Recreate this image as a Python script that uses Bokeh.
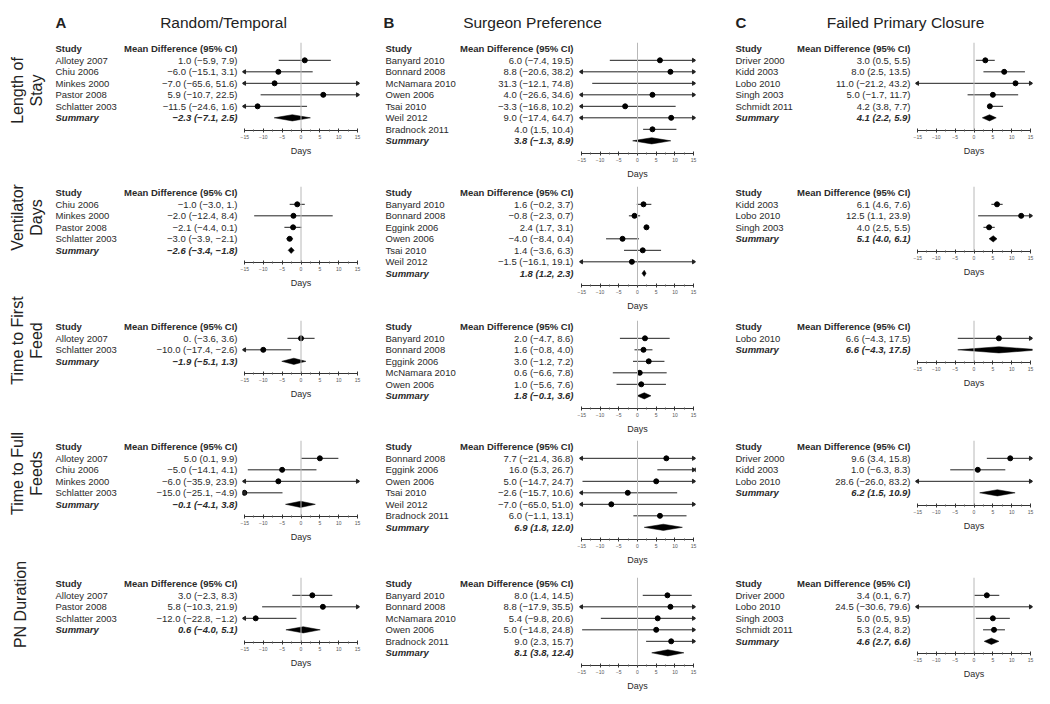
import math
from bokeh.plotting import figure
from bokeh.layouts import row, column
from bokeh.models import Range1d, FixedTicker, Span
from bokeh.core.properties import value
from bokeh.embed import file_html
from bokeh.resources import INLINE

FONT = "Liberation Sans"

# ------------------------------------------------------------------ data
COL_LETTERS = ["A", "B", "C"]
COL_TITLES = ["Random/Temporal", "Surgeon Preference", "Failed Primary Closure"]
ROW_TITLES = [["Length of", "Stay"], ["Ventilator", "Days"], ["Time to First", "Feed"],
              ["Time to Full", "Feeds"], ["PN Duration"]]
AXIS_TICKS = [-15, -10, -5, 0, 5, 10, 15]
AXIS_LABEL = "Days"

# Column A - Random/Temporal
A_los_study = ["Allotey 2007", "Chiu 2006", "Minkes 2000", "Pastor 2008", "Schlatter 2003"]
A_los_md = [1.0, -6.0, -7.0, 5.9, -11.5]
A_los_lo = [-5.9, -15.1, -65.6, -10.7, -24.6]
A_los_hi = [7.9, 3.1, 51.6, 22.5, 1.6]
A_los_lab = ["1.0 (−5.9, 7.9)", "−6.0 (−15.1, 3.1)", "−7.0 (−65.6, 51.6)", "5.9 (−10.7, 22.5)", "−11.5 (−24.6, 1.6)"]
A_los_sum = [-2.3, -7.1, 2.5]
A_los_sumlab = "−2.3 (−7.1, 2.5)"

A_vent_study = ["Chiu 2006", "Minkes 2000", "Pastor 2008", "Schlatter 2003"]
A_vent_md = [-1.0, -2.0, -2.1, -3.0]
A_vent_lo = [-3.0, -12.4, -4.4, -3.9]
A_vent_hi = [1.0, 8.4, 0.1, -2.1]
A_vent_lab = ["−1.0 (−3.0, 1.)", "−2.0 (−12.4, 8.4)", "−2.1 (−4.4, 0.1)", "−3.0 (−3.9, −2.1)"]
A_vent_sum = [-2.6, -3.4, -1.8]
A_vent_sumlab = "−2.6 (−3.4, −1.8)"

A_first_study = ["Allotey 2007", "Schlatter 2003"]
A_first_md = [0.0, -10.0]
A_first_lo = [-3.6, -17.4]
A_first_hi = [3.6, -2.6]
A_first_lab = ["0. (−3.6, 3.6)", "−10.0 (−17.4, −2.6)"]
A_first_sum = [-1.9, -5.1, 1.3]
A_first_sumlab = "−1.9 (−5.1, 1.3)"

A_full_study = ["Allotey 2007", "Chiu 2006", "Minkes 2000", "Schlatter 2003"]
A_full_md = [5.0, -5.0, -6.0, -15.0]
A_full_lo = [0.1, -14.1, -35.9, -25.1]
A_full_hi = [9.9, 4.1, 23.9, -4.9]
A_full_lab = ["5.0 (0.1, 9.9)", "−5.0 (−14.1, 4.1)", "−6.0 (−35.9, 23.9)", "−15.0 (−25.1, −4.9)"]
A_full_sum = [-0.1, -4.1, 3.8]
A_full_sumlab = "−0.1 (−4.1, 3.8)"

A_pn_study = ["Allotey 2007", "Pastor 2008", "Schlatter 2003"]
A_pn_md = [3.0, 5.8, -12.0]
A_pn_lo = [-2.3, -10.3, -22.8]
A_pn_hi = [8.3, 21.9, -1.2]
A_pn_lab = ["3.0 (−2.3, 8.3)", "5.8 (−10.3, 21.9)", "−12.0 (−22.8, −1.2)"]
A_pn_sum = [0.6, -4.0, 5.1]
A_pn_sumlab = "0.6 (−4.0, 5.1)"

# Column B - Surgeon Preference
B_los_study = ["Banyard 2010", "Bonnard 2008", "McNamara 2010", "Owen 2006", "Tsai 2010", "Weil 2012", "Bradnock 2011"]
B_los_md = [6.0, 8.8, 31.3, 4.0, -3.3, 9.0, 4.0]
B_los_lo = [-7.4, -20.6, -12.1, -26.6, -16.8, -17.4, 1.5]
B_los_hi = [19.5, 38.2, 74.8, 34.6, 10.2, 64.7, 10.4]
B_los_lab = ["6.0 (−7.4, 19.5)", "8.8 (−20.6, 38.2)", "31.3 (−12.1, 74.8)", "4.0 (−26.6, 34.6)",
             "−3.3 (−16.8, 10.2)", "9.0 (−17.4, 64.7)", "4.0 (1.5, 10.4)"]
B_los_sum = [3.8, -1.3, 8.9]
B_los_sumlab = "3.8 (−1.3, 8.9)"

B_vent_study = ["Banyard 2010", "Bonnard 2008", "Eggink 2006", "Owen 2006", "Tsai 2010", "Weil 2012"]
B_vent_md = [1.6, -0.8, 2.4, -4.0, 1.4, -1.5]
B_vent_lo = [-0.2, -2.3, 1.7, -8.4, -3.6, -16.1]
B_vent_hi = [3.7, 0.7, 3.1, 0.4, 6.3, 19.1]
B_vent_lab = ["1.6 (−0.2, 3.7)", "−0.8 (−2.3, 0.7)", "2.4 (1.7, 3.1)", "−4.0 (−8.4, 0.4)",
              "1.4 (−3.6, 6.3)", "−1.5 (−16.1, 19.1)"]
B_vent_sum = [1.8, 1.2, 2.3]
B_vent_sumlab = "1.8 (1.2, 2.3)"

B_first_study = ["Banyard 2010", "Bonnard 2008", "Eggink 2006", "McNamara 2010", "Owen 2006"]
B_first_md = [2.0, 1.6, 3.0, 0.6, 1.0]
B_first_lo = [-4.7, -0.8, -1.2, -6.6, -5.6]
B_first_hi = [8.6, 4.0, 7.2, 7.8, 7.6]
B_first_lab = ["2.0 (−4.7, 8.6)", "1.6 (−0.8, 4.0)", "3.0 (−1.2, 7.2)", "0.6 (−6.6, 7.8)", "1.0 (−5.6, 7.6)"]
B_first_sum = [1.8, -0.1, 3.6]
B_first_sumlab = "1.8 (−0.1, 3.6)"

B_full_study = ["Bonnard 2008", "Eggink 2006", "Owen 2006", "Tsai 2010", "Weil 2012", "Bradnock 2011"]
B_full_md = [7.7, 16.0, 5.0, -2.6, -7.0, 6.0]
B_full_lo = [-21.4, 5.3, -14.7, -15.7, -65.0, -1.1]
B_full_hi = [36.8, 26.7, 24.7, 10.6, 51.0, 13.1]
B_full_lab = ["7.7 (−21.4, 36.8)", "16.0 (5.3, 26.7)", "5.0 (−14.7, 24.7)", "−2.6 (−15.7, 10.6)",
              "−7.0 (−65.0, 51.0)", "6.0 (−1.1, 13.1)"]
B_full_sum = [6.9, 1.8, 12.0]
B_full_sumlab = "6.9 (1.8, 12.0)"

B_pn_study = ["Banyard 2010", "Bonnard 2008", "McNamara 2010", "Owen 2006", "Bradnock 2011"]
B_pn_md = [8.0, 8.8, 5.4, 5.0, 9.0]
B_pn_lo = [1.4, -17.9, -9.8, -14.8, 2.3]
B_pn_hi = [14.5, 35.5, 20.6, 24.8, 15.7]
B_pn_lab = ["8.0 (1.4, 14.5)", "8.8 (−17.9, 35.5)", "5.4 (−9.8, 20.6)", "5.0 (−14.8, 24.8)", "9.0 (2.3, 15.7)"]
B_pn_sum = [8.1, 3.8, 12.4]
B_pn_sumlab = "8.1 (3.8, 12.4)"

# Column C - Failed Primary Closure
C_los_study = ["Driver 2000", "Kidd 2003", "Lobo 2010", "Singh 2003", "Schmidt 2011"]
C_los_md = [3.0, 8.0, 11.0, 5.0, 4.2]
C_los_lo = [0.5, 2.5, -21.2, -1.7, 3.8]
C_los_hi = [5.5, 13.5, 43.2, 11.7, 7.7]
C_los_lab = ["3.0 (0.5, 5.5)", "8.0 (2.5, 13.5)", "11.0 (−21.2, 43.2)", "5.0 (−1.7, 11.7)", "4.2 (3.8, 7.7)"]
C_los_sum = [4.1, 2.2, 5.9]
C_los_sumlab = "4.1 (2.2, 5.9)"

C_vent_study = ["Kidd 2003", "Lobo 2010", "Singh 2003"]
C_vent_md = [6.1, 12.5, 4.0]
C_vent_lo = [4.6, 1.1, 2.5]
C_vent_hi = [7.6, 23.9, 5.5]
C_vent_lab = ["6.1 (4.6, 7.6)", "12.5 (1.1, 23.9)", "4.0 (2.5, 5.5)"]
C_vent_sum = [5.1, 4.0, 6.1]
C_vent_sumlab = "5.1 (4.0, 6.1)"

C_first_study = ["Lobo 2010"]
C_first_md = [6.6]
C_first_lo = [-4.3]
C_first_hi = [17.5]
C_first_lab = ["6.6 (−4.3, 17.5)"]
C_first_sum = [6.6, -4.3, 17.5]
C_first_sumlab = "6.6 (−4.3, 17.5)"

C_full_study = ["Driver 2000", "Kidd 2003", "Lobo 2010"]
C_full_md = [9.6, 1.0, 28.6]
C_full_lo = [3.4, -6.3, -26.0]
C_full_hi = [15.8, 8.3, 83.2]
C_full_lab = ["9.6 (3.4, 15.8)", "1.0 (−6.3, 8.3)", "28.6 (−26.0, 83.2)"]
C_full_sum = [6.2, 1.5, 10.9]
C_full_sumlab = "6.2 (1.5, 10.9)"

C_pn_study = ["Driver 2000", "Lobo 2010", "Singh 2003", "Schmidt 2011"]
C_pn_md = [3.4, 24.5, 5.0, 5.3]
C_pn_lo = [0.1, -30.6, 0.5, 2.4]
C_pn_hi = [6.7, 79.6, 9.5, 8.2]
C_pn_lab = ["3.4 (0.1, 6.7)", "24.5 (−30.6, 79.6)", "5.0 (0.5, 9.5)", "5.3 (2.4, 8.2)"]
C_pn_sum = [4.6, 2.7, 6.6]
C_pn_sumlab = "4.6 (2.7, 6.6)"

PANELS = [
    [(A_los_study, A_los_md, A_los_lo, A_los_hi, A_los_lab, A_los_sum, A_los_sumlab),
     (A_vent_study, A_vent_md, A_vent_lo, A_vent_hi, A_vent_lab, A_vent_sum, A_vent_sumlab),
     (A_first_study, A_first_md, A_first_lo, A_first_hi, A_first_lab, A_first_sum, A_first_sumlab),
     (A_full_study, A_full_md, A_full_lo, A_full_hi, A_full_lab, A_full_sum, A_full_sumlab),
     (A_pn_study, A_pn_md, A_pn_lo, A_pn_hi, A_pn_lab, A_pn_sum, A_pn_sumlab)],
    [(B_los_study, B_los_md, B_los_lo, B_los_hi, B_los_lab, B_los_sum, B_los_sumlab),
     (B_vent_study, B_vent_md, B_vent_lo, B_vent_hi, B_vent_lab, B_vent_sum, B_vent_sumlab),
     (B_first_study, B_first_md, B_first_lo, B_first_hi, B_first_lab, B_first_sum, B_first_sumlab),
     (B_full_study, B_full_md, B_full_lo, B_full_hi, B_full_lab, B_full_sum, B_full_sumlab),
     (B_pn_study, B_pn_md, B_pn_lo, B_pn_hi, B_pn_lab, B_pn_sum, B_pn_sumlab)],
    [(C_los_study, C_los_md, C_los_lo, C_los_hi, C_los_lab, C_los_sum, C_los_sumlab),
     (C_vent_study, C_vent_md, C_vent_lo, C_vent_hi, C_vent_lab, C_vent_sum, C_vent_sumlab),
     (C_first_study, C_first_md, C_first_lo, C_first_hi, C_first_lab, C_first_sum, C_first_sumlab),
     (C_full_study, C_full_md, C_full_lo, C_full_hi, C_full_lab, C_full_sum, C_full_sumlab),
     (C_pn_study, C_pn_md, C_pn_lo, C_pn_hi, C_pn_lab, C_pn_sum, C_pn_sumlab)],
]

# ------------------------------------------------------------------ layout
ROW_PX = 11.5
TOP_PAD = 0.55
BOT_PAD = 1.09
MB_TOP = 4
SLOT_H = [144, 134, 120, 137, 123]
TEXT_W = [188, 216, 216]
FOREST_W = [121, 120, 121]
NAME_X = [3, 24, 38]
CI_X = [185, 212, 213]
LIM = 15
XPAD = 0.5
TXT = "#2a2a2a"
TOP_H = 38
LEFT_W = 52


def base_fig(w, h, xr, yr, **kw):
    p = figure(width=w, height=h, x_range=xr, y_range=yr, output_backend="svg",
               toolbar_location=None, **kw)
    p.outline_line_color = None
    p.grid.visible = False
    p.background_fill_color = "white"
    p.border_fill_color = "white"
    return p


def make_panel(c, r, studies, md, lo, hi, labs, summ, sumlab):
    n = len(studies)
    frame_h = int(round((n + 1 + BOT_PAD + TOP_PAD) * ROW_PX))
    mb_bot = SLOT_H[r] - MB_TOP - frame_h
    top = -TOP_PAD
    bottom = top + frame_h / ROW_PX
    ys = list(range(1, n + 1))
    ysum = n + 1

    # ---- text table
    t = base_fig(TEXT_W[c], SLOT_H[r], Range1d(0, TEXT_W[c]), Range1d(bottom, top),
                 x_axis_location=None, y_axis_location=None,
                 min_border_left=0, min_border_right=0,
                 min_border_top=MB_TOP, min_border_bottom=mb_bot)
    common = dict(text_font=value(FONT), text_baseline="middle", text_color=TXT)
    t.text(x=[NAME_X[c]], y=[0], text=["Study"], text_align="left",
           text_font_size="9.5px", text_font_style="bold", **common)
    t.text(x=[CI_X[c]], y=[0], text=["Mean Difference (95% CI)"], text_align="right",
           text_font_size="9.5px", text_font_style="bold", **common)
    t.text(x=[NAME_X[c]] * n, y=ys, text=studies, text_align="left",
           text_font_size="9.5px", **common)
    t.text(x=[CI_X[c]] * n, y=ys, text=labs, text_align="right",
           text_font_size="9.5px", **common)
    t.text(x=[NAME_X[c]], y=[ysum], text=["Summary"], text_align="left",
           text_font_size="9.5px", text_font_style="bold italic", **common)
    t.text(x=[CI_X[c]], y=[ysum], text=[sumlab], text_align="right",
           text_font_size="9.5px", text_font_style="bold italic", **common)

    # ---- forest plot
    f = base_fig(FOREST_W[c], SLOT_H[r], Range1d(-LIM - XPAD, LIM + XPAD), Range1d(bottom, top),
                 y_axis_location=None, min_border_left=2, min_border_right=2,
                 min_border_top=MB_TOP, min_border_bottom=mb_bot)
    f.add_layout(Span(location=0, dimension="height", line_color="#b8b8b8", line_width=1))
    x0 = [max(v, -LIM) for v in lo]
    x1 = [min(v, LIM) for v in hi]
    f.segment(x0=x0, y0=ys, x1=x1, y1=ys, line_color="#222222", line_width=1)
    f.scatter(x=md, y=ys, marker="circle", size=5, color="black")
    rx = [LIM for v in hi if v > LIM]
    ry = [y for v, y in zip(hi, ys) if v > LIM]
    lx = [-LIM for v in lo if v < -LIM]
    ly = [y for v, y in zip(lo, ys) if v < -LIM]
    if rx:
        f.scatter(x=rx, y=ry, marker="triangle", angle=-math.pi / 2, size=4, color="#222222")
    if lx:
        f.scatter(x=lx, y=ly, marker="triangle", angle=math.pi / 2, size=4, color="#222222")
    h = 0.27
    f.patch(x=[summ[1], summ[0], summ[2], summ[0]], y=[ysum, ysum - h, ysum, ysum + h],
            fill_color="black", line_color="black", line_width=0.5)

    ax = f.xaxis[0]
    ax.ticker = FixedTicker(ticks=AXIS_TICKS,
                            minor_ticks=[a + 2.5 for a in AXIS_TICKS[:-1]])
    ax.bounds = (-LIM, LIM)
    ax.axis_label = AXIS_LABEL
    ax.axis_label_text_font = FONT
    ax.axis_label_text_font_size = "9px"
    ax.axis_label_text_font_style = "normal"
    ax.axis_label_text_color = TXT
    ax.axis_label_standoff = 4
    ax.major_label_text_font = FONT
    ax.major_label_text_font_size = "5px"
    ax.major_label_text_color = "#555555"
    ax.major_label_standoff = 2
    ax.major_tick_in = 2
    ax.major_tick_out = 2
    ax.minor_tick_in = 1
    ax.minor_tick_out = 1
    ax.axis_line_color = "#333333"
    ax.major_tick_line_color = "#333333"
    ax.minor_tick_line_color = "#555555"
    return row(t, f)


columns = []
for c in range(3):
    columns.append(column(*[make_panel(c, r, *PANELS[c][r]) for r in range(5)]))
main = row(*columns)

# column titles
TITLE_W = sum(TEXT_W) + sum(FOREST_W)
tf = base_fig(TITLE_W, TOP_H, Range1d(0, TITLE_W), Range1d(TOP_H, 0),
              x_axis_location=None, y_axis_location=None, min_border=0)
letter_x = [3, 331, 683]
title_x = [171, 480, 853]
tf.text(x=letter_x, y=[22] * 3, text=COL_LETTERS, text_font=value(FONT), text_font_size="15px",
        text_font_style="bold", text_align="left", text_baseline="middle", text_color="#222222")
tf.text(x=title_x, y=[22] * 3, text=COL_TITLES, text_font=value(FONT), text_font_size="15.5px",
        text_align="center", text_baseline="middle", text_color="#222222")

# row titles (rotated)
TOTAL_H = TOP_H + sum(SLOT_H)
rl = base_fig(LEFT_W, TOTAL_H, Range1d(0, LEFT_W), Range1d(TOTAL_H, 0),
              x_axis_location=None, y_axis_location=None, min_border=0)
row_cy = [90, 217, 340, 473, 604]
rx_, ry_, rt_ = [], [], []
for cy, lines in zip(row_cy, ROW_TITLES):
    xs = [17, 36] if len(lines) == 2 else [20]
    for xx, s in zip(xs, lines):
        rx_.append(xx)
        ry_.append(cy)
        rt_.append(s)
rl.text(x=rx_, y=ry_, text=rt_, angle=math.pi / 2, text_font=value(FONT), text_font_size="16px",
        text_align="center", text_baseline="middle", text_color="#222222")

layout = row(rl, column(tf, main))

open("out.html", "w").write(file_html(layout, INLINE))
